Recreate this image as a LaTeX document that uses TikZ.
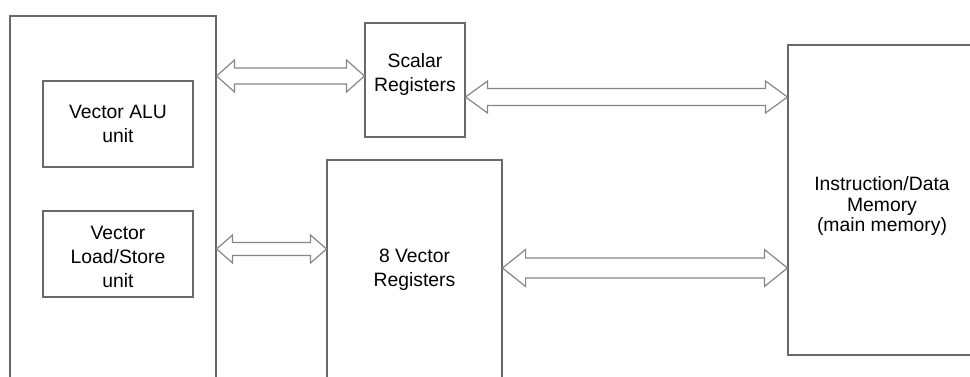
\documentclass[tikz,border=0pt]{standalone}
\usepackage{fontspec}
\setmainfont{Liberation Sans}
\usetikzlibrary{calc}
\definecolor{edgegray}{RGB}{105,105,105}
\definecolor{arrowgray}{RGB}{135,135,135}

\begin{document}
\begin{tikzpicture}[x=0.75pt, y=-0.75pt,
    bigarrow/.style n args={3}{
        draw=arrowgray, line width=0.9pt, fill=white, line join=miter,
        to path={let \p1=(\tikztostart), \p2=(\tikztotarget) in
            (\p1) -- (\x1+#3,\y1+#2) -- (\x1+#3,\y1+#1) -- (\x2-#3,\y1+#1) -- (\x2-#3,\y1+#2)
            -- (\p2) -- (\x2-#3,\y1-#2) -- (\x2-#3,\y1-#1) -- (\x1+#3,\y1-#1) -- (\x1+#3,\y1-#2) -- cycle}
    }]

    \clip (0,0) rectangle (970,376);

    % Define styles
    \tikzstyle{unit} = [rectangle, draw=edgegray, line width=0.8pt, inner sep=0pt]
    \tikzstyle{lbl} = [align=center, inner sep=0pt,
        font=\fontsize{14.5}{18}\selectfont]

    % Boxes
    \node[unit, minimum width=154.5pt, minimum height=288pt] (vpu) at (113,208) {};
    \node[unit, minimum width=112.5pt, minimum height=64.5pt] (alu) at (118,124) {};
    \node[unit, minimum width=112.5pt, minimum height=64.5pt] (ldst) at (118,254) {};
    \node[unit, minimum width=75pt, minimum height=85.5pt] (sreg) at (415,80) {};
    \node[unit, minimum width=131.25pt, minimum height=180pt] (vreg) at (414.5,280) {};
    \node[unit, minimum width=141pt, minimum height=232.5pt] (mem) at (882,200) {};

    % Labels (text sits a little off the box centre)
    \node[lbl] (alutext) at (118,124) {Vector ALU\\unit};
    \node[lbl] (ldsttext) at (118,257) {Vector\\Load/Store\\unit};
    \node[lbl] (sregtext) at (415,74) {Scalar\\Registers};
    \node[lbl] (vregtext) at (414.5,270) {8 Vector\\Registers};
    \node[lbl, font=\fontsize{14.5}{15.5}\selectfont] (memtext) at (882,206)
        {Instruction/Data\\Memory\\(main memory)};

    % Arrows
    \draw[bigarrow={6pt}{12pt}{13.5pt}] (vpu.east |- 0,76) to (sreg.west |- 0,76);
    \draw[bigarrow={6.4pt}{12pt}{16.5pt}] (sreg.east |- 0,97) to (mem.west |- 0,97);
    \draw[bigarrow={4.9pt}{10.5pt}{12pt}] (vpu.east |- 0,249) to (vreg.west |- 0,249);
    \draw[bigarrow={7.5pt}{13.9pt}{17.3pt}] (vreg.east |- 0,268) to (mem.west |- 0,268);

\end{tikzpicture}
\end{document}
